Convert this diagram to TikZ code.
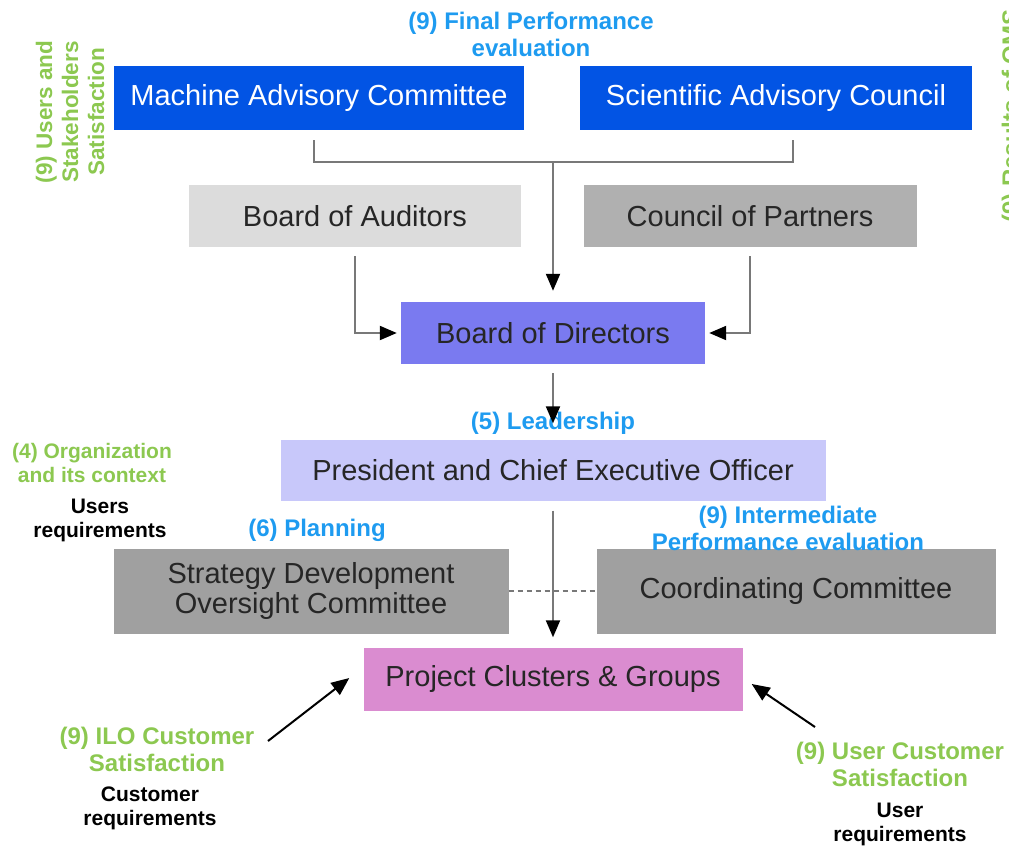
\documentclass[tikz,border=0pt]{standalone}
\usepackage{fontspec}
\setmainfont{Liberation Sans}
\usepackage{xcolor}
\usetikzlibrary{arrows.meta, calc, positioning}

\definecolor{advblue}{RGB}{2,84,228}
\definecolor{audgray}{RGB}{220,220,220}
\definecolor{pargray}{RGB}{176,176,176}
\definecolor{dirblue}{RGB}{122,122,240}
\definecolor{ceolav}{RGB}{200,200,250}
\definecolor{cmtgray}{RGB}{160,160,160}
\definecolor{pcgpink}{RGB}{218,140,208}
\definecolor{lblblue}{RGB}{30,155,240}
\definecolor{lblgreen}{RGB}{140,200,80}
\definecolor{linegray}{RGB}{120,120,120}

\begin{document}
\begin{tikzpicture}[
        x=1pt, y=-1pt,
        box/.style={rectangle, inner sep=0pt, text centered, align=center, text=black!85, font=\fontsize{29}{30}\selectfont},
        topbox/.style={box, fill=advblue, text=white, minimum height=64pt},
        bluelbl/.style={align=center, text=lblblue, font=\fontsize{24}{27}\selectfont\bfseries},
        greenlbl/.style={align=center, text=lblgreen, font=\fontsize{24}{27}\selectfont\bfseries},
        reqlbl/.style={align=center, text=black, font=\fontsize{21}{24}\selectfont\bfseries},
        line/.style={draw=linegray, line width=2pt},
        arrow/.style={line, -{Triangle[length=17pt, width=14pt, color=black]}},
        pointer/.style={draw=black, line width=2pt, -{Triangle[length=18pt, width=15pt]}}
        ]
        \useasboundingbox (0,0) rectangle (1009,846);

        % governance boxes
        \node (mac) [topbox, minimum width=410pt] at (319,98) {Machine Advisory Committee};
        \node (sac) [topbox, minimum width=392pt] at (776,98) {Scientific Advisory Council};
        \node (boa) [box, fill=audgray, minimum width=332pt, minimum height=62pt] at (355,216) {Board of Auditors};
        \node (cop) [box, fill=pargray, minimum width=333pt, minimum height=62pt] at (750,216) {Council of Partners};
        \node (bod) [box, fill=dirblue, minimum width=304pt, minimum height=62pt] at (553,333) {Board of Directors};
        \node (ceo) [box, fill=ceolav, minimum width=545pt, minimum height=61pt] at (553,470) {President and Chief Executive Officer};
        \node (sdo) [box, fill=cmtgray, minimum width=395pt, minimum height=85pt] at (311,591) {Strategy Development\\Oversight Committee};
        \node (coc) [box, fill=cmtgray, minimum width=399pt, minimum height=85pt] at (796,591) {Coordinating Committee};
        \node (pcg) [box, fill=pcgpink, minimum width=379pt, minimum height=63pt] at (553,679) {Project Clusters \& Groups};

        % clause labels
        \node (fpe) [bluelbl] at (531,34) {(9) Final Performance\\evaluation};
        \node (uss) [greenlbl, rotate=90, font=\fontsize{22.5}{26}\selectfont\bfseries] at (70,112) {(9) Users and\\Stakeholders\\Satisfaction};
        \node (qms) [greenlbl, rotate=90] at (1013,116) {(9) Results of QMS};
        \node (lead) [bluelbl] at (553,423) {(5) Leadership};
        \node (org) [greenlbl, font=\fontsize{21}{24}\selectfont\bfseries] at (92,463) {(4) Organization\\and its context};
        \node (ureq) [reqlbl] at (100,520) {Users\\requirements};
        \node (plan) [bluelbl] at (317,530) {(6) Planning};
        \node (ipe) [bluelbl] at (788,528) {(9) Intermediate\\Performance evaluation};
        \node (ilo) [greenlbl] at (157,749) {(9) ILO Customer\\Satisfaction};
        \node (creq) [reqlbl] at (150,808) {Customer\\requirements};
        \node (ucs) [greenlbl] at (900,764) {(9) User Customer\\Satisfaction};
        \node (ureqb) [reqlbl] at (900,824) {User\\requirements};

        % connectors
        \coordinate (macdrop) at (314,140);
        \coordinate (sacdrop) at (793,140);
        \coordinate (join) at (553,162);
        \coordinate (ilotail) at (268,741);
        \coordinate (ucstail) at (815,727);

        \draw [line] (macdrop) -- ++(0,22) -| (sacdrop);
        \draw [arrow, shorten >=11pt] (join) -- (bod);
        \draw [arrow, shorten <=9pt, shorten >=4pt] (boa) |- (bod);
        \draw [arrow, shorten <=9pt, shorten >=4pt] (cop) |- (bod);
        \draw [arrow, shorten <=9pt, shorten >=16pt] (bod) -- (ceo);
        \draw [arrow, shorten <=10pt, shorten >=10pt] (ceo) -- (pcg);
        \draw [draw=linegray, line width=1.5pt, dash pattern=on 5pt off 4pt] (sdo) -- (coc);
        \draw [pointer] (ilotail) -- ($(pcg.west)+(-14,-1)$);
        \draw [pointer] (ucstail) -- ($(pcg.east)+(9,5)$);

    \end{tikzpicture}
\end{document}
